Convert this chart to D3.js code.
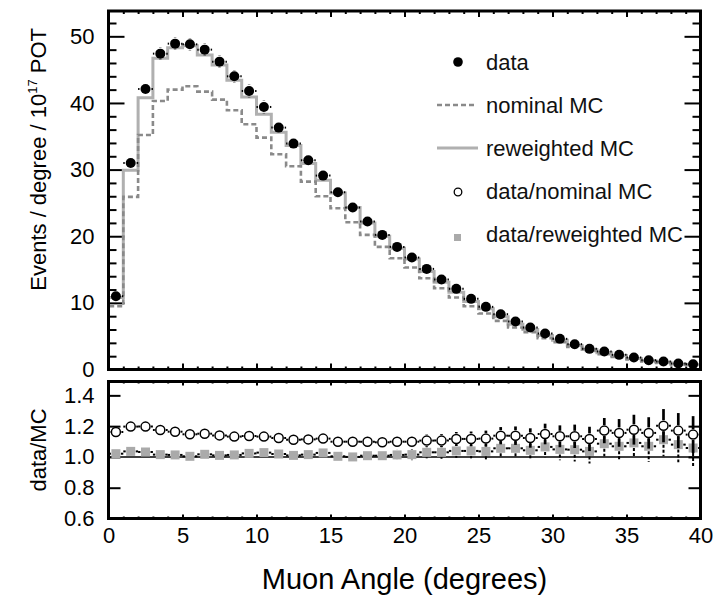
<!DOCTYPE html>
<html>
<head>
  <meta charset="UTF-8">
  <title>Muon angle</title>
  <style>
    body { margin: 0; background: #fff; font-family: 'Liberation Sans', Arial, Helvetica, sans-serif; }
    .axis path { display: none; }
    .axis line { stroke: #000; stroke-width: 2px; }
    .axis text { font-size: 22px; fill: #000; font-family: 'Liberation Sans', Arial, sans-serif; }
    .frame { fill: none; stroke: #000; stroke-width: 3px; }
    .title { font-size: 22px; fill: #000; }
    .xtitle { font-size: 29px; fill: #000; }
    .legend text { font-size: 22px; fill: #111; }
  </style>
</head>
<body>
  <script src="https://d3js.org/d3.v7.min.js"></script>
  <script>
    // bins are 1 degree wide, 0..40
    var binLow = d3.range(0, 40);

    var data = [11.0, 31.0, 42.1, 47.4, 48.9, 48.8, 48.0, 46.2, 44.0, 41.8,
                39.4, 36.3, 33.9, 31.4, 29.1, 26.6, 24.3, 22.2, 20.2, 18.4,
                16.8, 15.1, 13.5, 12.1, 10.6, 9.4, 8.3, 7.2, 6.3, 5.4,
                4.6, 3.8, 3.1, 2.7, 2.2, 1.8, 1.4, 1.2, 0.9, 0.8];
    var dataErr = [0.5, 0.8, 0.9, 0.95, 0.95, 0.95, 0.95, 0.95, 0.95, 0.95,
                   0.95, 0.9, 0.9, 0.85, 0.85, 0.8, 0.75, 0.7, 0.65, 0.6,
                   0.55, 0.5, 0.45, 0.42, 0.4, 0.37, 0.34, 0.31, 0.28, 0.26,
                   0.24, 0.22, 0.2, 0.18, 0.16, 0.14, 0.12, 0.11, 0.1, 0.09];
    var nominalMC = [9.5, 25.9, 35.2, 40.3, 42.0, 42.5, 41.7, 40.5, 38.9, 36.8,
                     34.8, 32.3, 30.5, 28.2, 26.0, 24.2, 22.1, 20.2, 18.4, 16.7,
                     15.3, 13.7, 12.2, 10.8, 9.5, 8.4, 7.3, 6.3, 5.6, 4.7,
                     4.1, 3.4, 2.8, 2.3, 1.9, 1.5, 1.2, 1.0, 0.77, 0.7];
    var reweightedMC = [10.8, 29.9, 40.8, 46.7, 48.3, 48.6, 47.2, 45.7, 43.4, 40.9,
                        38.3, 35.6, 33.6, 30.9, 28.4, 26.5, 24.3, 22.0, 20.0, 18.2,
                        16.6, 14.7, 13.1, 11.6, 10.2, 9.1, 7.9, 6.8, 6.0, 5.1,
                        4.4, 3.6, 3.0, 2.5, 2.1, 1.65, 1.3, 1.08, 0.83, 0.76];
    var ratioNominal = [1.162, 1.197, 1.197, 1.175, 1.164, 1.147, 1.151, 1.140, 1.132, 1.136,
                        1.132, 1.123, 1.112, 1.114, 1.119, 1.099, 1.099, 1.099, 1.095, 1.099,
                        1.099, 1.106, 1.106, 1.117, 1.117, 1.119, 1.138, 1.138, 1.123, 1.149,
                        1.134, 1.134, 1.117, 1.171, 1.156, 1.177, 1.156, 1.203, 1.171, 1.145];
    var ratioReweighted = [1.021, 1.036, 1.032, 1.015, 1.013, 1.004, 1.017, 1.010, 1.013, 1.023,
                           1.028, 1.019, 1.010, 1.015, 1.026, 1.004, 1.000, 1.008, 1.008, 1.013,
                           1.015, 1.030, 1.030, 1.039, 1.039, 1.036, 1.056, 1.056, 1.043, 1.065,
                           1.049, 1.047, 1.036, 1.086, 1.069, 1.091, 1.069, 1.112, 1.080, 1.058];
    var ratioErr = [0.02, 0.016, 0.015, 0.015, 0.015, 0.015, 0.016, 0.017, 0.018, 0.019,
                    0.02, 0.021, 0.022, 0.023, 0.024, 0.026, 0.027, 0.029, 0.031, 0.033,
                    0.036, 0.039, 0.042, 0.045, 0.048, 0.052, 0.056, 0.06, 0.063, 0.067,
                    0.071, 0.076, 0.079, 0.082, 0.09, 0.097, 0.102, 0.108, 0.114, 0.12];

    var topTicks = [0, 10, 20, 30, 40, 50];
    var botTicks = [0.6, 0.8, 1.0, 1.2, 1.4];
    var xTicks = [0, 5, 10, 15, 20, 25, 30, 35, 40];

    var legendItems = ["data", "nominal MC", "reweighted MC", "data/nominal MC", "data/reweighted MC"];

    var width = 722, height = 595;
    var svg = d3.select("body").append("svg")
        .attr("width", width)
        .attr("height", height);

    var x = d3.scaleLinear().domain([0, 40]).range([108.5, 700.5]);
    var yTop = d3.scaleLinear().domain([0, 53.8]).range([369.5, 11]);
    var yBot = d3.scaleLinear().domain([0.6, 1.49]).range([518.5, 381.5]);

    // ---- axes: ticks drawn inward like ROOT
    function yAxes(scale, major, minor, majLen, minLen, labels, fmt) {
      var g = svg.append("g");
      g.append("g").attr("class", "axis")
        .attr("transform", "translate(" + x(0) + ",0)")
        .call(d3.axisLeft(scale).tickValues(major).tickSize(-majLen).tickPadding(14)
              .tickFormat(labels ? fmt : ""));
      g.append("g").attr("class", "axis")
        .attr("transform", "translate(" + x(40) + ",0)")
        .call(d3.axisRight(scale).tickValues(major).tickSize(-majLen).tickFormat(""));
      if (minor) {
        g.append("g").attr("class", "axis")
          .attr("transform", "translate(" + x(0) + ",0)")
          .call(d3.axisLeft(scale).tickValues(minor).tickSize(-minLen).tickFormat(""));
        g.append("g").attr("class", "axis")
          .attr("transform", "translate(" + x(40) + ",0)")
          .call(d3.axisRight(scale).tickValues(minor).tickSize(-minLen).tickFormat(""));
      }
    }

    function xAxes(yTopPx, yBotPx, majLen, minLen, labels) {
      var minor = d3.range(0, 41).filter(function(d) { return d % 5 !== 0; });
      svg.append("g").attr("class", "axis")
        .attr("transform", "translate(0," + yBotPx + ")")
        .call(d3.axisBottom(x).tickValues(xTicks).tickSize(-majLen).tickPadding(9)
              .tickFormat(labels ? d3.format("d") : ""));
      svg.append("g").attr("class", "axis")
        .attr("transform", "translate(0," + yBotPx + ")")
        .call(d3.axisBottom(x).tickValues(minor).tickSize(-minLen).tickFormat(""));
      svg.append("g").attr("class", "axis")
        .attr("transform", "translate(0," + yTopPx + ")")
        .call(d3.axisTop(x).tickValues(xTicks).tickSize(-majLen).tickFormat(""));
      svg.append("g").attr("class", "axis")
        .attr("transform", "translate(0," + yTopPx + ")")
        .call(d3.axisTop(x).tickValues(minor).tickSize(-minLen).tickFormat(""));
    }

    yAxes(yTop, topTicks, d3.range(2, 53, 2).filter(function(d) { return d % 10 !== 0; }),
          16, 8, true, d3.format("d"));
    yAxes(yBot, botTicks.slice(1), null, 12, 0, true, d3.format(".1f"));
    // label for 0.6 at the bottom edge
    svg.append("g").attr("class", "axis")
      .attr("transform", "translate(" + x(0) + ",0)")
      .call(d3.axisLeft(yBot).tickValues([0.6]).tickSize(0).tickPadding(14).tickFormat(d3.format(".1f")));

    xAxes(yTop(53.8), yTop(0), 6, 3, false);
    xAxes(yBot(1.49), yBot(0.6), 4, 2, true);

    // ---- histograms
    function stepPoints(vals) {
      var pts = [[0, 0]];
      vals.forEach(function(v, i) { pts.push([binLow[i], v]); pts.push([binLow[i] + 1, v]); });
      return pts;
    }
    var histLine = d3.line()
        .x(function(d) { return x(d[0]); })
        .y(function(d) { return yTop(d[1]); });

    svg.append("path")
      .attr("d", histLine(stepPoints(reweightedMC)))
      .attr("fill", "none")
      .attr("stroke", "#b0b0b0")
      .attr("stroke-width", 3);

    svg.append("path")
      .attr("d", histLine(stepPoints(nominalMC)))
      .attr("fill", "none")
      .attr("stroke", "#8a8a8a")
      .attr("stroke-width", 2.6)
      .attr("stroke-dasharray", "5,3");

    // ---- error bars with a gap round the marker
    function errorBars(g, vals, errs, yScale, gap, dash, vw) {
      var gs = g.selectAll("g.eb").data(vals).enter().append("g").attr("class", "eb");
      gs.each(function(v, i) {
        var cx = x(binLow[i] + 0.5), cy = yScale(v);
        var el = d3.select(this);
        var up = yScale(v + errs[i]), dn = yScale(v - errs[i]);
        if (cy - up > gap) {
          el.append("line").attr("x1", cx).attr("x2", cx).attr("y1", cy - gap).attr("y2", up);
          el.append("line").attr("x1", cx).attr("x2", cx).attr("y1", cy + gap).attr("y2", dn);
        }
        el.append("line").attr("x1", x(binLow[i])).attr("x2", cx - gap).attr("y1", cy).attr("y2", cy)
          .attr("stroke-width", 2);
        el.append("line").attr("x1", cx + gap).attr("x2", x(binLow[i] + 1)).attr("y1", cy).attr("y2", cy)
          .attr("stroke-width", 2);
      });
      g.selectAll("line").attr("stroke", "#000")
        .attr("stroke-dasharray", function() { return dash && this.getAttribute("x1") === this.getAttribute("x2") ? dash : null; })
        .attr("stroke-width", function() { return this.getAttribute("stroke-width") || vw; });
    }

    var gData = svg.append("g");
    errorBars(gData, data, dataErr, yTop, 6, null, 2.5);
    gData.selectAll("circle").data(data).enter().append("circle")
      .attr("cx", function(d, i) { return x(binLow[i] + 0.5); })
      .attr("cy", function(d) { return yTop(d); })
      .attr("r", 5)
      .attr("fill", "#000");

    // ---- ratio panel
    svg.append("line")
      .attr("x1", x(0)).attr("x2", x(40))
      .attr("y1", yBot(1)).attr("y2", yBot(1))
      .attr("stroke", "#000").attr("stroke-width", 1.6);

    var gRw = svg.append("g");
    errorBars(gRw, ratioReweighted, ratioErr, yBot, 5, "3,2", 2);
    gRw.selectAll("rect").data(ratioReweighted).enter().append("rect")
      .attr("x", function(d, i) { return x(binLow[i] + 0.5) - 4.5; })
      .attr("y", function(d) { return yBot(d) - 4.5; })
      .attr("width", 9).attr("height", 9)
      .attr("fill", "#aaaaaa");

    var gNom = svg.append("g");
    errorBars(gNom, ratioNominal, ratioErr, yBot, 5.5, null, 2.7);
    gNom.selectAll("circle").data(ratioNominal).enter().append("circle")
      .attr("cx", function(d, i) { return x(binLow[i] + 0.5); })
      .attr("cy", function(d) { return yBot(d); })
      .attr("r", 4.5)
      .attr("fill", "#fff")
      .attr("stroke", "#000")
      .attr("stroke-width", 1.5);

    // ---- frames
    svg.append("rect").attr("class", "frame")
      .attr("x", x(0)).attr("y", yTop(53.8))
      .attr("width", x(40) - x(0)).attr("height", yTop(0) - yTop(53.8));
    svg.append("rect").attr("class", "frame")
      .attr("x", x(0)).attr("y", yBot(1.49))
      .attr("width", x(40) - x(0)).attr("height", yBot(0.6) - yBot(1.49));

    // ---- titles
    var yt = svg.append("text").attr("class", "title")
      .attr("transform", "translate(46,28) rotate(-90)")
      .attr("text-anchor", "end");
    yt.append("tspan").text("Events / degree / 10");
    yt.append("tspan").attr("font-size", "13px").attr("dy", "-9").text("17");
    yt.append("tspan").attr("dy", "9").text(" POT");

    svg.append("text").attr("class", "title")
      .attr("transform", "translate(46," + ((yBot(1.49) + yBot(0.6)) / 2) + ") rotate(-90)")
      .attr("text-anchor", "middle")
      .text("data/MC");

    svg.append("text").attr("class", "xtitle")
      .attr("x", (x(0) + x(40)) / 2).attr("y", 589)
      .attr("text-anchor", "middle")
      .text("Muon Angle (degrees)");

    // ---- legend
    var legY = [62, 105, 148, 191, 234];
    var leg = svg.append("g").attr("class", "legend");
    leg.selectAll("text").data(legendItems).enter().append("text")
      .attr("x", 486)
      .attr("y", function(d, i) { return legY[i]; })
      .attr("dy", "0.35em")
      .text(function(d) { return d; });
    leg.append("circle").attr("cx", 458).attr("cy", legY[0]).attr("r", 4.8).attr("fill", "#000");
    leg.append("line").attr("x1", 437).attr("x2", 477).attr("y1", legY[1]).attr("y2", legY[1])
      .attr("stroke", "#8a8a8a").attr("stroke-width", 2.6).attr("stroke-dasharray", "5,3");
    leg.append("line").attr("x1", 437).attr("x2", 478).attr("y1", legY[2]).attr("y2", legY[2])
      .attr("stroke", "#b0b0b0").attr("stroke-width", 3);
    leg.append("circle").attr("cx", 458).attr("cy", legY[3] + 1).attr("r", 3.8)
      .attr("fill", "#fff").attr("stroke", "#000").attr("stroke-width", 1.3);
    leg.append("rect").attr("x", 454).attr("y", legY[4]).attr("width", 7).attr("height", 7)
      .attr("fill", "#aaaaaa");
  </script>
</body>
</html>
